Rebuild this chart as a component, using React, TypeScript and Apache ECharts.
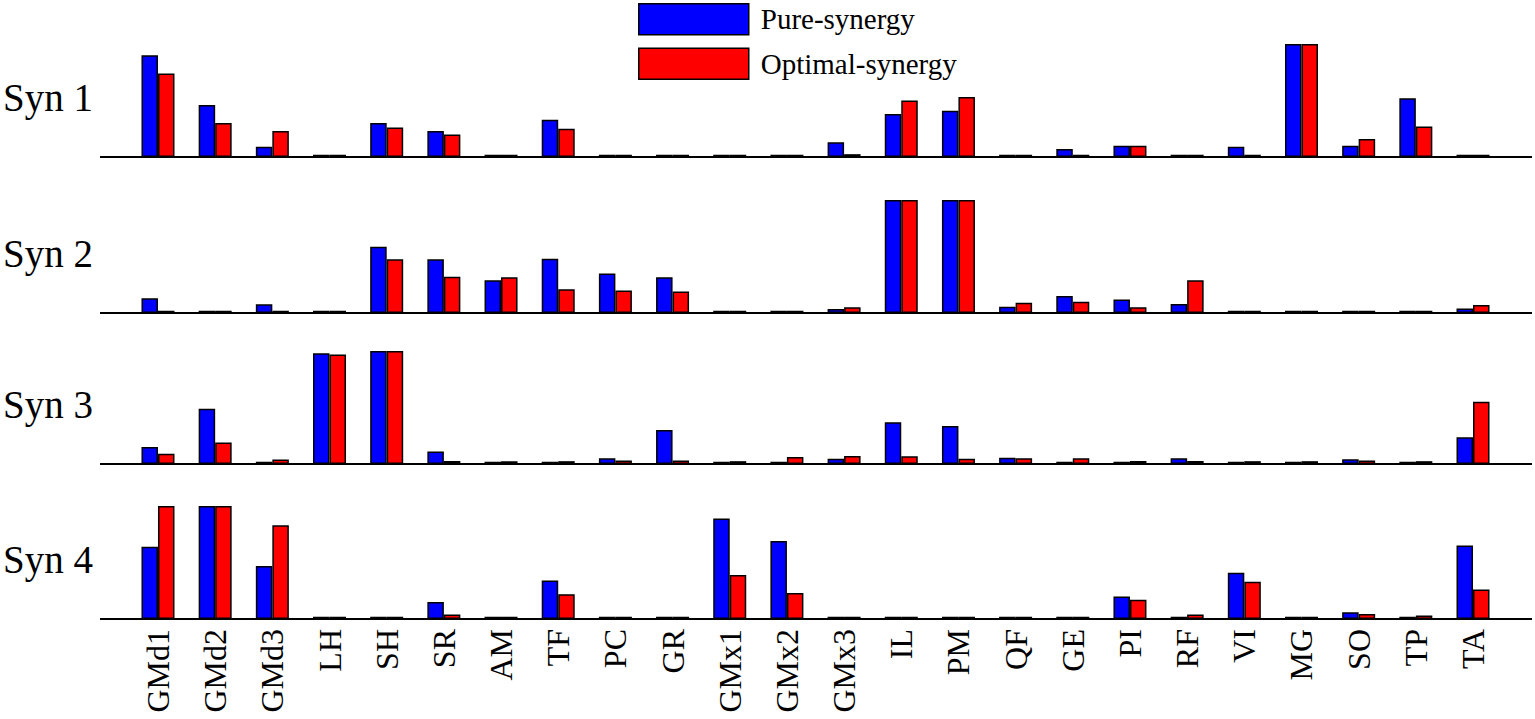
import React, { useRef, useEffect } from 'react';
import * as echarts from 'echarts';

const categories = [
  'GMd1', 'GMd2', 'GMd3', 'LH', 'SH', 'SR', 'AM', 'TF', 'PC', 'GR', 'GMx1', 'GMx2',
  'GMx3', 'IL', 'PM', 'QF', 'GE', 'PI', 'RF', 'VI', 'MG', 'SO', 'TP', 'TA'
];

const synLabels = ['Syn 1', 'Syn 2', 'Syn 3', 'Syn 4'];

const syn1Pure = [0.90, 0.46, 0.09, 0.02, 0.30, 0.23, 0.02, 0.33, 0.02, 0.02, 0.02, 0.02, 0.13, 0.38, 0.41, 0.02, 0.07, 0.10, 0.02, 0.09, 1, 0.10, 0.52, 0.02];
const syn1Optimal = [0.74, 0.30, 0.23, 0.02, 0.26, 0.20, 0.02, 0.25, 0.02, 0.02, 0.02, 0.02, 0.025, 0.50, 0.53, 0.02, 0.02, 0.10, 0.02, 0.02, 1, 0.16, 0.27, 0.02];

const syn2Pure = [0.13, 0.02, 0.077, 0.02, 0.587, 0.475, 0.29, 0.48, 0.35, 0.316, 0.02, 0.02, 0.035, 1, 1, 0.055, 0.15, 0.12, 0.08, 0.02, 0.02, 0.02, 0.02, 0.04];
const syn2Optimal = [0.02, 0.02, 0.02, 0.02, 0.475, 0.32, 0.316, 0.21, 0.20, 0.19, 0.02, 0.02, 0.05, 1, 1, 0.09, 0.10, 0.05, 0.29, 0.02, 0.02, 0.02, 0.02, 0.07];

const syn3Pure = [0.15, 0.49, 0.02, 0.98, 1, 0.11, 0.02, 0.02, 0.05, 0.30, 0.02, 0.02, 0.047, 0.37, 0.336, 0.056, 0.02, 0.02, 0.05, 0.02, 0.02, 0.041, 0.02, 0.236];
const syn3Optimal = [0.09, 0.19, 0.04, 0.97, 1, 0.027, 0.025, 0.025, 0.03, 0.03, 0.025, 0.062, 0.071, 0.068, 0.047, 0.05, 0.05, 0.027, 0.027, 0.025, 0.025, 0.032, 0.025, 0.55];

const syn4Pure = [0.64, 1, 0.47, 0.02, 0.02, 0.15, 0.02, 0.34, 0.02, 0.02, 0.89, 0.69, 0.02, 0.02, 0.02, 0.02, 0.02, 0.20, 0.02, 0.41, 0.02, 0.06, 0.02, 0.65];
const syn4Optimal = [1, 1, 0.83, 0.02, 0.02, 0.04, 0.02, 0.22, 0.02, 0.02, 0.39, 0.23, 0.02, 0.02, 0.02, 0.02, 0.02, 0.17, 0.04, 0.33, 0.02, 0.045, 0.03, 0.26];

const pureSeries = [syn1Pure, syn2Pure, syn3Pure, syn4Pure];
const optimalSeries = [syn1Optimal, syn2Optimal, syn3Optimal, syn4Optimal];

const FONT = '"Liberation Serif", "Times New Roman", serif';
const panelTops = [44, 200, 351, 506];
const panelHeight = 113;

const App: React.FC = () => {
  const chartRef = useRef<HTMLDivElement>(null);

  useEffect(() => {
    if (!chartRef.current) return;
    const chart = echarts.init(chartRef.current, null, { renderer: 'svg' });

    const grids = panelTops.map(top => ({
      left: 129.4,
      right: 33.4,
      top,
      height: panelHeight,
    }));

    const xAxes = panelTops.map((_, i) => ({
      type: 'category' as const,
      gridIndex: i,
      data: categories,
      axisLine: { show: false },
      axisTick: { show: false },
      axisLabel: {
        show: i === 3,
        interval: 0,
        rotate: 90,
        margin: 10,
        fontSize: 32,
        fontFamily: FONT,
        color: '#000',
      },
    }));

    const yAxes = panelTops.map((_, i) => ({
      type: 'value' as const,
      gridIndex: i,
      min: 0,
      max: 1,
      show: false,
    }));

    const barStyle = (color: string) => ({
      color,
      borderColor: '#000',
      borderWidth: 1.5,
    });

    const series: any[] = [];
    panelTops.forEach((_, i) => {
      series.push({
        name: 'Pure-synergy',
        type: 'bar',
        xAxisIndex: i,
        yAxisIndex: i,
        data: pureSeries[i],
        barWidth: 16.5,
        barGap: '0%',
        itemStyle: barStyle('#0000ff'),
      });
      series.push({
        name: 'Optimal-synergy',
        type: 'bar',
        xAxisIndex: i,
        yAxisIndex: i,
        data: optimalSeries[i],
        barWidth: 16.5,
        barGap: '0%',
        itemStyle: barStyle('#ff0000'),
      });
    });

    const graphics: any[] = [];
    panelTops.forEach((top, i) => {
      graphics.push({
        type: 'line',
        shape: { x1: 100, y1: top + panelHeight, x2: 1532, y2: top + panelHeight },
        style: { stroke: '#000', lineWidth: 2 },
        z: 10,
      });
      graphics.push({
        type: 'text',
        left: 3,
        top: top + panelHeight / 2 - 23,
        style: {
          text: synLabels[i],
          fontSize: 39,
          fontFamily: FONT,
          fill: '#000',
        },
      });
    });

    chart.setOption({
      animation: false,
      backgroundColor: '#fff',
      legend: {
        data: ['Pure-synergy', 'Optimal-synergy'],
        orient: 'vertical',
        left: 638,
        top: 3,
        padding: 0,
        itemWidth: 110,
        itemHeight: 31,
        itemGap: 12,
        icon: 'rect',
        textStyle: { fontSize: 29, fontFamily: FONT, color: '#000', padding: [0, 0, 0, 7] },
        itemStyle: { borderColor: '#000', borderWidth: 1.5 },
      },
      grid: grids,
      xAxis: xAxes,
      yAxis: yAxes,
      series,
      graphic: graphics,
    });

    return () => {
      chart.dispose();
    };
  }, []);

  return (
    <div
      ref={chartRef}
      style={{ position: 'fixed', left: 0, top: 0, width: 1535, height: 719 }}
    />
  );
};

export default App;
